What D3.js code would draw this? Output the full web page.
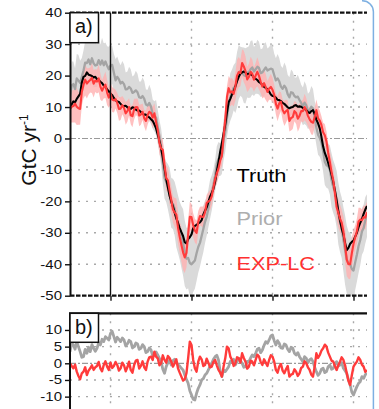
<!DOCTYPE html>
<html>
<head>
<meta charset="utf-8">
<script src="https://cdn.jsdelivr.net/npm/d3@7"></script>
<style>
  body { margin: 0; background: #fff; }
  svg { display: block; }
  text { font-family: "Liberation Sans", Arial, sans-serif; }
</style>
</head>
<body>
<svg id="chart" width="379" height="409"></svg>
<script>
// Flux time series, quarter-month steps (months 0..44)
const truth = [
  9.5, 10.9, 11.8, 11.5, 12.6, 13.4, 14.2, 17.8, 19.6, 19.9,
  21.0, 20.3, 20.1, 19.9, 19.4, 19.6, 18.9, 18.7, 18.0, 17.6,
  16.8, 16.5, 15.6, 15.0, 14.2, 13.8, 12.9, 12.1, 11.8, 11.6,
  11.0, 10.4, 10.3, 10.4, 9.9, 9.5, 9.4, 9.9, 9.8, 9.2,
  8.9, 8.9, 8.4, 7.9, 7.6, 7.6, 7.0, 6.7, 6.1, 5.6,
  4.5, 3.2, 1.2, -0.8, -3.2, -6.0, -9.5, -12.8, -15.5, -18.2,
  -20.0, -21.6, -23.5, -25.4, -26.8, -28.5, -29.8, -31.0, -33.0, -33.4,
  -32.0, -31.4, -30.5, -28.6, -27.8, -27.5, -27.0, -26.7, -26.0, -24.2,
  -23.0, -21.9, -20.2, -18.5, -17.3, -16.0, -13.8, -10.5, -7.5, -4.2,
  -1.5, 1.5, 4.5, 8.2, 11.5, 12.6, 14.0, 15.0, 16.6, 18.2,
  19.6, 20.6, 21.0, 21.3, 20.9, 20.4, 20.6, 20.4, 20.1, 19.3,
  19.0, 18.6, 17.9, 17.6, 17.0, 16.4, 16.1, 15.6, 14.9, 14.0,
  13.5, 13.4, 13.0, 12.3, 12.2, 11.9, 11.3, 11.0, 10.5, 9.9,
  9.6, 9.9, 10.0, 10.5, 10.6, 10.1, 10.2, 10.1, 9.7, 9.4,
  9.0, 8.4, 8.1, 8.7, 9.0, 7.8, 6.0, 4.8, 3.2, 0.5,
  -2.5, -4.6, -6.0, -7.8, -9.5, -11.5, -13.8, -16.6, -19.8, -23.0,
  -26.0, -28.6, -30.5, -33.2, -35.5, -34.8, -33.5, -32.9, -32.5, -31.2,
  -30.0, -28.2, -26.8, -25.6, -24.0, -22.6, -21.5
];

// Prior minus truth (panel b, grey)
const priorMinusTruth = [
  3.5, 6.0, 5.5, 4.2, 6.5, 5.0, 3.5, 1.8, 2.0, 4.2,
  3.0, 4.8, 3.5, 5.6, 4.5, 3.6, 4.5, 6.2, 5.5, 7.2,
  6.5, 8.0, 7.5, 7.0, 9.0, 9.6, 8.0, 6.4, 7.8, 7.2,
  6.5, 7.6, 7.0, 5.2, 5.8, 6.9, 6.5, 4.6, 5.0, 6.1,
  5.8, 4.2, 4.5, 5.6, 5.0, 3.2, 3.5, 4.6, 4.0, 2.2,
  2.5, 3.4, 2.5, 1.5, 0.5, -1.8, -3.0, -1.0, 0.2, 1.0,
  -0.5, 0.8, 1.2, 0.2, -0.5, -0.8, -1.5, -2.0, -3.5, -4.8,
  -6.0, -8.2, -9.5, -10.8, -11.0, -9.0, -7.5, -6.5, -5.0, -4.6,
  -3.5, -3.0, -2.0, -0.8, 0.0, 1.2, 2.0, 2.4, 1.0, -2.5,
  -4.0, -2.0, -2.5, -1.8, -1.0, 0.6, 0.5, 1.2, -0.5, 0.5,
  1.5, 0.8, 0.0, -1.2, -1.0, 0.6, 0.5, 1.6, 2.5, 2.0,
  3.0, 4.2, 4.5, 3.2, 4.0, 5.4, 6.5, 6.0, 7.0, 8.2,
  8.5, 6.8, 5.5, 6.8, 6.0, 4.6, 4.5, 5.8, 5.5, 4.2,
  3.5, 4.8, 4.5, 3.0, 2.5, 3.2, 2.0, 1.2, 0.5, 2.0,
  1.5, 0.2, 1.0, 1.4, 0.5, -1.2, -2.5, -3.6, -3.0, -1.8,
  -1.5, -2.8, -2.5, -1.0, -0.5, -1.8, -1.5, -0.2, 0.5, -0.8,
  -0.5, 0.2, -1.5, -2.2, -3.0, -5.0, -6.5, -8.6, -9.5, -8.2,
  -7.0, -6.0, -5.5, -4.0, -4.5, -3.4, -3.0
];

// EXP-LC minus truth (panel b, red)
const expMinusTruth = [
  0.0, -0.8, -1.5, -0.4, -2.5, -3.8, -4.8, -3.0, -2.5, -1.2,
  -3.5, -2.2, -1.5, -0.6, -2.0, -1.2, -0.8, 0.4, -1.5, -2.4,
  -0.5, 0.6, -1.0, -2.0, 0.2, -1.4, -0.8, 0.4, -0.5, -2.2,
  -1.5, 0.2, -0.6, -2.4, -1.2, 0.5, -2.0, -2.8, -0.5, 0.8,
  1.0, -1.6, -0.8, 0.6, -1.2, -2.0, 0.5, 1.8, 2.0, 1.0,
  3.5, 2.0, 1.5, -0.6, 0.0, 2.4, 1.0, 0.2, 2.2, 1.6,
  0.5, -1.0, 0.0, 1.2, -1.5, -2.8, -4.0, -5.2, -4.8, -3.0,
  1.5, 6.5, 5.5, 1.0, -1.5, -2.5, 0.5, 2.0, 1.2, -0.8,
  -0.5, 1.4, 0.2, -1.2, -1.0, 0.4, 1.0, -0.6, -2.0, -2.8,
  -4.0, -1.0, 1.5, 5.0, 4.5, 2.0, 1.0, -0.8, 0.0, 1.8,
  1.5, 0.2, 3.0, 1.6, 0.5, -1.6, -1.0, 0.8, 0.5, -0.6,
  1.0, 2.6, 2.0, 0.4, -0.5, 1.2, 0.2, -0.8, 1.0, 2.4,
  2.0, 0.5, -2.0, -2.8, -1.0, -0.2, -2.2, -3.0, -1.8, -0.8,
  -4.0, -3.4, -3.2, -1.8, -2.5, -3.8, -3.0, -1.4, -1.0, 0.6,
  0.0, -1.2, -2.0, -3.4, -4.0, -1.0, 3.0, 1.6, 2.5, 3.8,
  4.5, 5.6, 5.0, 3.2, 2.0, 0.8, 0.5, -0.8, -2.0, -0.6,
  0.5, 1.8, 1.0, -0.6, -3.0, -5.2, -6.5, -3.6, -1.0, -0.2,
  0.5, 1.8, 1.0, -0.4, -1.0, -2.6, -2.0
];

// Uncertainty half-widths of the prior and EXP-LC fluxes
const priorSpread = [
  6.5, 7.6, 7.2, 6.6, 7.8, 8.2, 7.0, 6.0, 6.4, 7.0,
  7.4, 6.6, 6.8, 7.8, 7.6, 6.8, 7.0, 6.4, 6.4, 7.2,
  6.9, 6.0, 6.2, 7.2, 6.8, 6.0, 6.0, 6.8, 6.5, 5.6,
  5.8, 6.6, 6.3, 5.4, 5.6, 6.4, 6.1, 5.2, 5.4, 6.2,
  5.9, 5.0, 5.2, 6.0, 5.7, 4.8, 5.0, 5.8, 5.5, 4.6,
  4.8, 5.6, 5.4, 5.2, 5.9, 6.6, 6.6, 6.4, 7.2, 8.0,
  7.9, 8.0, 8.5, 9.4, 9.2, 9.2, 9.8, 10.6, 10.4, 9.8,
  9.6, 10.6, 10.2, 9.4, 9.0, 8.8, 8.2, 7.6, 7.4, 7.4,
  6.8, 6.0, 6.0, 6.2, 5.6, 5.0, 5.0, 5.6, 5.4, 5.2,
  5.8, 6.4, 6.2, 6.0, 6.8, 7.6, 7.4, 7.2, 8.0, 8.8,
  8.6, 7.8, 8.0, 8.8, 8.8, 8.0, 8.2, 9.0, 8.6, 7.8,
  7.8, 8.6, 8.4, 7.6, 7.6, 8.4, 8.0, 7.0, 7.2, 7.8,
  7.6, 6.8, 7.0, 7.8, 7.4, 6.6, 6.6, 7.4, 7.0, 6.2,
  6.4, 7.2, 6.8, 6.0, 6.2, 7.0, 6.6, 5.8, 6.0, 6.8,
  6.4, 5.6, 5.8, 6.6, 6.2, 5.4, 5.6, 6.4, 6.0, 6.0,
  6.6, 7.4, 7.2, 7.2, 7.8, 8.6, 8.4, 8.4, 9.0, 9.8,
  9.6, 9.6, 10.2, 11.0, 10.8, 10.2, 10.0, 10.0, 9.4, 8.8,
  8.6, 8.6, 8.0, 7.4, 7.4, 7.4, 6.8
];
const expSpread = [
  4.5, 5.0, 5.2, 6.0, 5.8, 5.2, 5.0, 4.4, 4.4, 5.0,
  4.8, 4.2, 4.0, 4.8, 4.4, 3.6, 3.8, 4.4, 4.2, 3.4,
  3.6, 4.2, 4.0, 3.2, 3.4, 4.0, 3.8, 3.0, 3.2, 3.8,
  3.6, 2.9, 3.0, 3.6, 3.4, 2.8, 2.9, 3.5, 3.3, 2.6,
  2.8, 3.4, 3.2, 2.6, 2.7, 3.3, 3.1, 2.6, 2.8, 3.4,
  3.2, 2.8, 3.0, 3.6, 3.4, 3.2, 3.6, 4.0, 3.9, 4.3,
  4.2, 4.2, 4.6, 5.2, 5.0, 5.0, 5.4, 5.6, 5.0, 4.6,
  4.6, 4.8, 4.2, 3.8, 3.8, 3.8, 3.4, 3.0, 3.2, 3.4,
  3.0, 2.6, 2.8, 3.2, 3.0, 2.6, 2.7, 3.2, 3.0, 2.8,
  3.3, 3.8, 3.6, 3.4, 3.9, 4.4, 4.2, 4.0, 4.5, 5.0,
  4.8, 4.2, 4.4, 5.0, 4.7, 4.0, 4.2, 4.8, 4.5, 3.8,
  4.0, 4.6, 4.3, 3.6, 3.8, 4.4, 4.1, 3.4, 3.6, 4.2,
  3.9, 3.2, 3.4, 4.0, 3.8, 3.0, 3.3, 4.0, 3.7, 3.0,
  3.4, 4.0, 3.8, 3.2, 3.5, 4.2, 3.9, 3.2, 3.6, 4.2,
  3.9, 3.2, 3.5, 4.0, 3.8, 3.0, 3.4, 3.6, 3.2, 2.8,
  3.0, 3.6, 3.2, 3.0, 3.5, 4.0, 3.8, 3.6, 4.1, 4.6,
  4.4, 4.2, 4.8, 5.4, 5.2, 4.6, 4.8, 5.0, 4.4, 3.8,
  4.0, 4.4, 3.8, 3.4, 3.6, 3.8, 3.4
];

const yTicksA = [40, 30, 20, 10, 0, -10, -20, -30, -40, -50];
const yTicksB = [10, 5, 0, -5, -10];
const timeTicks = [6, 18, 30, 42];
const legendLabels = ["Truth", "Prior", "EXP-LC"];
const panelLabels = ["a)", "b)"];

const C = { truth: "#000000", prior: "#a4a4a4", priorBand: "#dadada",
            exp: "#ff3b3b", expBand: "#ffb0b0", grid: "#a8a8a8" };

const svg = d3.select("#chart");
const months = truth.map((_, i) => i * 0.25);
const rows = months.map((m, i) => ({
  m,
  truth: truth[i],
  prior: truth[i] + priorMinusTruth[i],
  exp: truth[i] + expMinusTruth[i],
  dp: priorMinusTruth[i],
  de: expMinusTruth[i],
  sp: priorSpread[i],
  se: expSpread[i]
}));

const x = d3.scaleLinear().domain([0, 44]).range([70, 367]);
const yA = d3.scaleLinear().domain([-50, 40]).range([295.7, 12.7]);
const yB = d3.scaleLinear().domain([-15, 15]).range([413.3, 313.3]);
const X0 = x(0), X1 = x(44);

const defs = svg.append("defs");
defs.append("clipPath").attr("id", "clipA").append("rect")
  .attr("x", X0).attr("y", yA(40)).attr("width", X1 - X0).attr("height", yA(-50) - yA(40));
defs.append("clipPath").attr("id", "clipB").append("rect")
  .attr("x", X0).attr("y", yB(15)).attr("width", X1 - X0).attr("height", 409 - yB(15));

// ---------- grids ----------
function hGrid(y, values) {
  values.forEach(v => {
    if (v === 0) {
      svg.append("line").attr("x1", X0).attr("x2", X1)
        .attr("y1", y(0)).attr("y2", y(0))
        .attr("stroke", "#9a9a9a").attr("stroke-width", 1.2)
        .attr("stroke-dasharray", "6,2,2,2");
    } else {
      svg.append("line").attr("x1", X0).attr("x2", X1)
        .attr("y1", y(v)).attr("y2", y(v))
        .attr("stroke", C.grid).attr("stroke-width", 1.4)
        .attr("stroke-dasharray", "2,6");
    }
  });
}
function vGrid(ticks, top, bottom) {
  ticks.forEach(t => {
    svg.append("line").attr("x1", x(t)).attr("x2", x(t))
      .attr("y1", top).attr("y2", bottom)
      .attr("stroke", C.grid).attr("stroke-width", 1.4)
      .attr("stroke-dasharray", "2,6");
  });
}

hGrid(yA, [30, 20, 10, 0, -10, -20, -30, -40]);
vGrid(timeTicks.slice(1), yA(40), yA(-50));
hGrid(yB, [10, 5, 0, -5, -10]);
vGrid(timeTicks, yB(15), 409);

// ---------- panel a: bands and lines ----------
const gA = svg.append("g").attr("clip-path", "url(#clipA)");
const area = (key, spread) => d3.area()
  .x(d => x(d.m)).y0(d => yA(d[key] - d[spread])).y1(d => yA(d[key] + d[spread]));
const lineA = key => d3.line().x(d => x(d.m)).y(d => yA(d[key]));

gA.append("path").datum(rows).attr("d", area("prior", "sp")).attr("fill", C.priorBand);
gA.append("path").datum(rows).attr("d", area("exp", "se"))
  .attr("fill", C.expBand).attr("fill-opacity", 0.8);
gA.append("path").datum(rows).attr("d", lineA("prior"))
  .attr("fill", "none").attr("stroke", C.prior).attr("stroke-width", 2.3)
  .attr("stroke-linejoin", "round");
gA.append("path").datum(rows).attr("d", lineA("truth"))
  .attr("fill", "none").attr("stroke", C.truth).attr("stroke-width", 2.1)
  .attr("stroke-linejoin", "round");
gA.append("path").datum(rows).attr("d", lineA("exp"))
  .attr("fill", "none").attr("stroke", C.exp).attr("stroke-width", 2.1)
  .attr("stroke-linejoin", "round");

// solid marker line at month 6
svg.append("line").attr("x1", x(6)).attr("x2", x(6))
  .attr("y1", yA(40)).attr("y2", yA(-50))
  .attr("stroke", "#111").attr("stroke-width", 1.4);

// ---------- panel b: differences ----------
const gB = svg.append("g").attr("clip-path", "url(#clipB)");
const lineB = key => d3.line().x(d => x(d.m)).y(d => yB(d[key]));
gB.append("path").datum(rows).attr("d", lineB("dp"))
  .attr("fill", "none").attr("stroke", C.prior).attr("stroke-width", 2.8)
  .attr("stroke-linejoin", "round");
gB.append("path").datum(rows).attr("d", lineB("de"))
  .attr("fill", "none").attr("stroke", C.exp).attr("stroke-width", 2.4)
  .attr("stroke-linejoin", "round");

// ---------- axes ----------
function styleTicks(g, size) {
  g.attr("font-family", null).attr("font-size", null);
  g.selectAll(".tick line").attr("stroke", "#111").attr("stroke-width", 1.4);
  g.selectAll(".tick text").each(function () {
    const t = d3.select(this);
    const tx = +t.attr("x");
    t.attr("x", 0).attr("transform", `translate(${tx},0) scale(1.2,1)`)
      .attr("fill", "#111").style("font-size", size + "px");
  });
}
const axA = svg.append("g").attr("transform", `translate(${X0},0)`)
  .call(d3.axisLeft(yA).tickValues(yTicksA).tickSize(5).tickPadding(3)
    .tickSizeOuter(0).tickFormat(d => String(d)));
axA.select(".domain").attr("stroke", "#111").attr("stroke-width", 2);
styleTicks(axA, 12.5);

const axAb = svg.append("g").attr("transform", `translate(0,${yA(-50)})`)
  .call(d3.axisBottom(x).tickValues(timeTicks).tickSize(5).tickSizeOuter(0).tickFormat(""));
axAb.select(".domain").remove();
axAb.selectAll(".tick line").attr("stroke", "#111").attr("stroke-width", 1.4);

// dashed top and bottom frame of panel a
[40, -50].forEach(v => {
  svg.append("line").attr("x1", X0).attr("x2", X1)
    .attr("y1", yA(v)).attr("y2", yA(v))
    .attr("stroke", "#111").attr("stroke-width", 2.2)
    .attr("stroke-dasharray", "4.5,1.5");
});

const axB = svg.append("g").attr("transform", `translate(${X0},0)`)
  .call(d3.axisLeft(yB).tickValues(yTicksB).tickSize(5).tickPadding(3)
    .tickSizeOuter(0).tickFormat(d => String(d)));
axB.select(".domain").attr("stroke", "#111").attr("stroke-width", 2)
  .attr("d", `M0,${yB(15)}V409`);
styleTicks(axB, 12.5);
svg.append("line").attr("x1", X0 - 1).attr("x2", X1)
  .attr("y1", yB(15)).attr("y2", yB(15))
  .attr("stroke", "#111").attr("stroke-width", 2.2);

// ---------- panel tags ----------
[[yA(40), panelLabels[0], 30.0], [yB(15), panelLabels[1], 29.0]].forEach(([top, label, h]) => {
  svg.append("rect").attr("x", X0).attr("y", top).attr("width", 28.5).attr("height", h)
    .attr("fill", "#fff").attr("stroke", "#111").attr("stroke-width", 1.5);
  svg.append("text").attr("x", X0 + 5).attr("y", top + 20.5)
    .attr("font-size", 20).attr("fill", "#111").text(label);
});

// ---------- y axis title ----------
const yt = svg.append("text")
  .attr("transform", "translate(36,150) rotate(-90)")
  .attr("text-anchor", "middle").attr("font-size", 21).attr("fill", "#111");
yt.append("tspan").text("GtC yr");
yt.append("tspan").attr("dy", -8).attr("font-size", 12).text("-1");

// ---------- legend ----------
const legendColors = [C.truth, "#aeaeae", "#ff3030"];
const legendY = [181.7, 225, 269.5];
legendLabels.forEach((lab, i) => {
  svg.append("text")
    .attr("transform", `translate(236.5,${legendY[i]}) scale(1.17,1)`)
    .attr("font-size", 18.6).attr("fill", legendColors[i]).text(lab);
});

// ---------- outer frame edge ----------
svg.append("path").attr("d", "M362,0.8 A11,11 0 0 1 373.4,12 V409")
  .attr("fill", "none").attr("stroke", "#7eb0e2").attr("stroke-width", 1.5);
</script>
</body>
</html>
